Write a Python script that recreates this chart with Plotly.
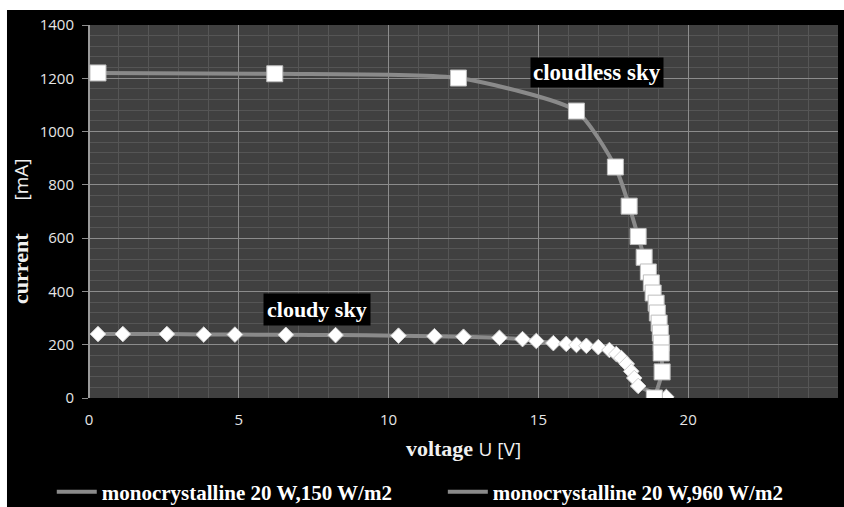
import plotly.graph_objects as go

# I-V characteristics of a 20 W monocrystalline module
# cloudy sky (150 W/m2)
u_cloudy = [0.3, 1.13, 2.6, 3.83, 4.87, 6.57, 8.23, 10.33, 11.53, 12.5, 13.7,
            14.47, 14.93, 15.5, 15.93, 16.27, 16.6, 17.0, 17.37, 17.6, 17.77,
            17.95, 18.1, 18.2, 18.33, 19.27]
i_cloudy = [240, 240, 240, 238, 238, 237, 236, 234, 232, 230, 226,
            221, 214, 206, 203, 199, 196, 191, 180, 165, 150,
            128, 100, 75, 45, 4]

# cloudless sky (960 W/m2)
u_clear = [0.3, 6.2, 12.33, 16.27, 17.57, 18.03, 18.33, 18.53, 18.67, 18.77,
           18.83, 18.93, 18.97, 19.03, 19.07, 19.1, 19.1, 19.13, 18.87]
i_clear = [1220, 1217, 1201, 1077, 867, 720, 606, 528, 473, 432,
           394, 356, 319, 281, 244, 206, 169, 98, 0]

legend_names = ["monocrystalline 20 W,150 W/m2", "monocrystalline 20 W,960 W/m2"]
x_ticks = [0, 5, 10, 15, 20, 25]
y_ticks = [0, 200, 400, 600, 800, 1000, 1200, 1400]

LINE_GRAY = "#8a8a8a"
SERIF = "Liberation Serif"
SANS = "Open Sans"
NB = "&nbsp;"

fig = go.Figure()

# connecting curves (these carry the legend entries, one legend box each)
fig.add_trace(go.Scatter(x=u_cloudy, y=i_cloudy, mode="lines", name=legend_names[0],
                         legend="legend",
                         line=dict(color=LINE_GRAY, width=4, shape="spline", smoothing=0.6)))
fig.add_trace(go.Scatter(x=u_clear, y=i_clear, mode="lines", name=legend_names[1],
                         legend="legend2",
                         line=dict(color=LINE_GRAY, width=4, shape="spline", smoothing=0.6)))

# measured points
fig.add_trace(go.Scatter(x=u_cloudy, y=i_cloudy, mode="markers", showlegend=False,
                         marker=dict(symbol="diamond", size=12, color="white",
                                     line=dict(color="#d0d0d0", width=1))))
fig.add_trace(go.Scatter(x=u_clear, y=i_clear, mode="markers", showlegend=False,
                         marker=dict(symbol="square", size=16, color="white",
                                     line=dict(color="#bdbdbd", width=1))))

unit_span = "<span style='font-family:Open Sans;font-weight:normal;font-size:19px'>{}</span>"

fig.update_xaxes(range=[0, 25], tickvals=x_ticks, showline=False,
                 gridcolor="#8c8c8c", gridwidth=1,
                 minor=dict(dtick=1, gridcolor="#555555", gridwidth=1, showgrid=True),
                 zeroline=True, zerolinecolor="#9a9a9a", zerolinewidth=2,
                 tickfont=dict(family=SANS, size=15, color="#e6e6e6"),
                 ticks="outside", ticklen=8, tickcolor="black",
                 title=dict(text="<b>voltage</b> " + unit_span.format("U [V]"),
                            font=dict(family=SERIF, size=22, color="#f0f0f0"), standoff=12))
fig.update_yaxes(range=[0, 1400], tickvals=y_ticks, showline=False,
                 gridcolor="#8c8c8c", gridwidth=1,
                 minor=dict(dtick=40, gridcolor="#555555", gridwidth=1, showgrid=True),
                 zeroline=False,
                 tickfont=dict(family=SANS, size=15, color="#e6e6e6"),
                 ticks="outside", ticklen=6, tickcolor="#8c8c8c", ticklabelstandoff=5,
                 title=dict(text="<b>current</b>" + NB * 6 + unit_span.format("[mA]" + NB * 8),
                            font=dict(family=SERIF, size=22, color="#f0f0f0"), standoff=4))

fig.add_annotation(x=16.96, y=1222, text="<b>cloudless sky</b>", showarrow=False,
                   font=dict(family=SERIF, size=23, color="white"),
                   bgcolor="black", borderpad=2)
fig.add_annotation(x=7.61, y=334, text="<b>cloudy sky</b>", showarrow=False,
                   font=dict(family=SERIF, size=22, color="white"),
                   bgcolor="black", borderpad=3)

# white page edges around the black panel
fig.add_shape(type="rect", xref="paper", yref="paper", x0=-0.2, x1=1.1, y0=1.0402, y1=1.2,
              fillcolor="white", line=dict(width=0), layer="below")
fig.add_shape(type="rect", xref="paper", yref="paper", x0=-0.2, x1=-0.1095, y0=-0.4, y1=1.2,
              fillcolor="white", line=dict(width=0), layer="below")

legend_style = dict(orientation="h", xanchor="left", y=-0.252, yanchor="middle",
                    font=dict(family=SERIF, size=21, color="white", weight="bold"),
                    bgcolor="rgba(0,0,0,0)", itemwidth=40)

fig.update_layout(
    width=844, height=507,
    margin=dict(l=89, r=6, t=25, b=109, autoexpand=False),
    paper_bgcolor="black", plot_bgcolor="#404040",
    showlegend=True,
    legend=dict(x=-0.0497, **legend_style),
    legend2=dict(x=0.4724, **legend_style),
)

fig.write_html("out.html")
